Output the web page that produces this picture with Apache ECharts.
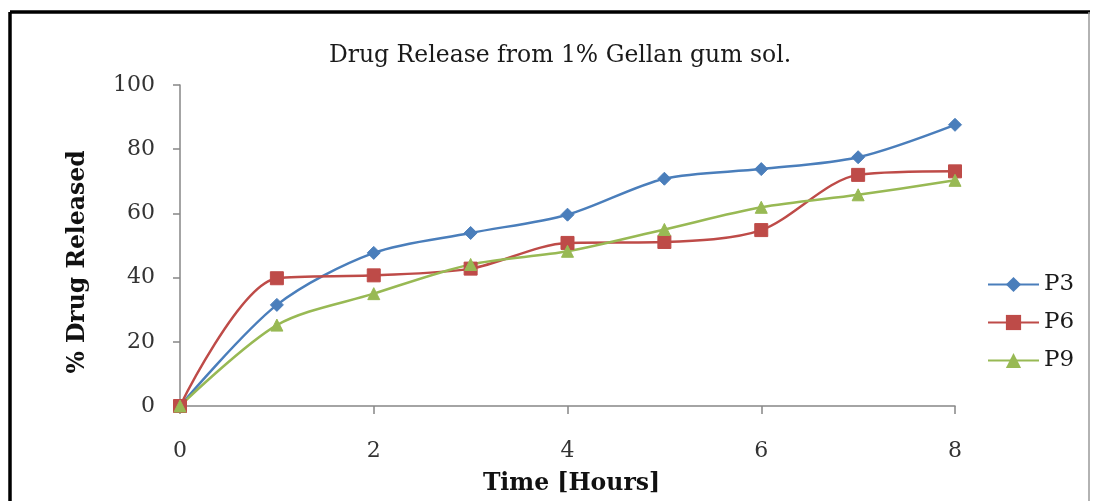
<!DOCTYPE html>
<html>
<head>
<meta charset="utf-8">
<script src="https://cdn.jsdelivr.net/npm/echarts@6/dist/echarts.min.js"></script>
<style>
  html, body { margin: 0; padding: 0; background: #ffffff; }
  #chart { width: 1094px; height: 501px; }
</style>
</head>
<body>
<div id="chart"></div>
<script>
// Release profile, % drug released vs. time in hours
const hours = [0, 1, 2, 3, 4, 5, 6, 7, 8];
const p3 = [0, 31.5, 47.7, 53.9, 59.6, 70.8, 73.8, 77.5, 87.6];
const p6 = [0, 39.8, 40.7, 42.8, 50.8, 51.1, 54.8, 72.0, 73.1];
const p9 = [0, 25.2, 35.0, 44.1, 48.2, 55.0, 61.9, 65.8, 70.3];
const seriesNames = ['P3', 'P6', 'P9'];
const yTicks = [0, 20, 40, 60, 80, 100];
const xTicks = [0, 2, 4, 6, 8];

const serif = 'DejaVu Serif';
const colors = ['#4A7EBB', '#BE4B48', '#98B954'];
const symbols = ['diamond', 'rect', 'triangle'];
const symbolSizes = [13, 13, 12];

const chart = echarts.init(document.getElementById('chart'), null, { renderer: 'canvas' });

const pairs = arr => hours.map((h, i) => [h, arr[i]]);

chart.setOption({
  backgroundColor: '#ffffff',
  animation: false,
  title: {
    text: 'Drug Release from 1% Gellan gum sol.',
    left: 555,
    textAlign: 'center',
    top: 39,
    textStyle: { fontFamily: serif, fontSize: 23.5, fontWeight: 'normal', color: '#1a1a1a' }
  },
  legend: {
    orient: 'vertical',
    left: 982,
    top: 268,
    itemWidth: 51,
    itemHeight: 19,
    itemGap: 15,
    data: seriesNames,
    textStyle: { fontFamily: serif, fontSize: 23, color: '#1a1a1a' }
  },
  grid: { left: 180, right: 139, top: 85, bottom: 94, containLabel: false },
  xAxis: {
    type: 'value',
    min: xTicks[0],
    max: xTicks[xTicks.length - 1],
    interval: 2,
    name: 'Time [Hours]',
    nameLocation: 'middle',
    nameGap: 66,
    nameTextStyle: { fontFamily: serif, fontSize: 23.5, fontWeight: 'bold', color: '#111', padding: [0, 0, 0, 8] },
    axisLine: { lineStyle: { color: '#868686', width: 1.5 } },
    axisTick: { show: true, length: 8, lineStyle: { color: '#868686', width: 1.5 } },
    axisLabel: { margin: 34, fontFamily: serif, fontSize: 22, color: '#333' },
    splitLine: { show: false }
  },
  yAxis: {
    type: 'value',
    min: yTicks[0],
    max: yTicks[yTicks.length - 1],
    interval: 20,
    axisLine: { show: true, lineStyle: { color: '#868686', width: 1.5 } },
    axisTick: { show: true, length: 7, lineStyle: { color: '#868686', width: 1.5 } },
    axisLabel: { margin: 25, fontFamily: serif, fontSize: 22, color: '#333' },
    splitLine: { show: false }
  },
  graphic: [
    // Frame around the figure
    { type: 'line', shape: { x1: 10, y1: 12, x2: 1090, y2: 12 }, style: { stroke: '#000', lineWidth: 3.5 } },
    { type: 'line', shape: { x1: 10, y1: 12, x2: 10, y2: 510 }, style: { stroke: '#000', lineWidth: 3.5 } },
    { type: 'line', shape: { x1: 1089, y1: 12, x2: 1089, y2: 510 }, style: { stroke: '#9a9a9a', lineWidth: 1.5 } },
    // Vertical axis title
    {
      type: 'text',
      x: 78, y: 262,
      rotation: Math.PI / 2,
      style: {
        text: '% Drug Released',
        fontFamily: serif, fontSize: 23.5, fontWeight: 'bold',
        fill: '#111', align: 'center', verticalAlign: 'middle'
      }
    }
  ],
  series: [p3, p6, p9].map((arr, i) => ({
    name: seriesNames[i],
    type: 'line',
    data: pairs(arr),
    smooth: 0.3,
    symbol: symbols[i],
    symbolSize: symbolSizes[i],
    lineStyle: { color: colors[i], width: 2.5 },
    itemStyle: { color: colors[i], borderColor: colors[i] }
  }))
});
</script>
</body>
</html>
